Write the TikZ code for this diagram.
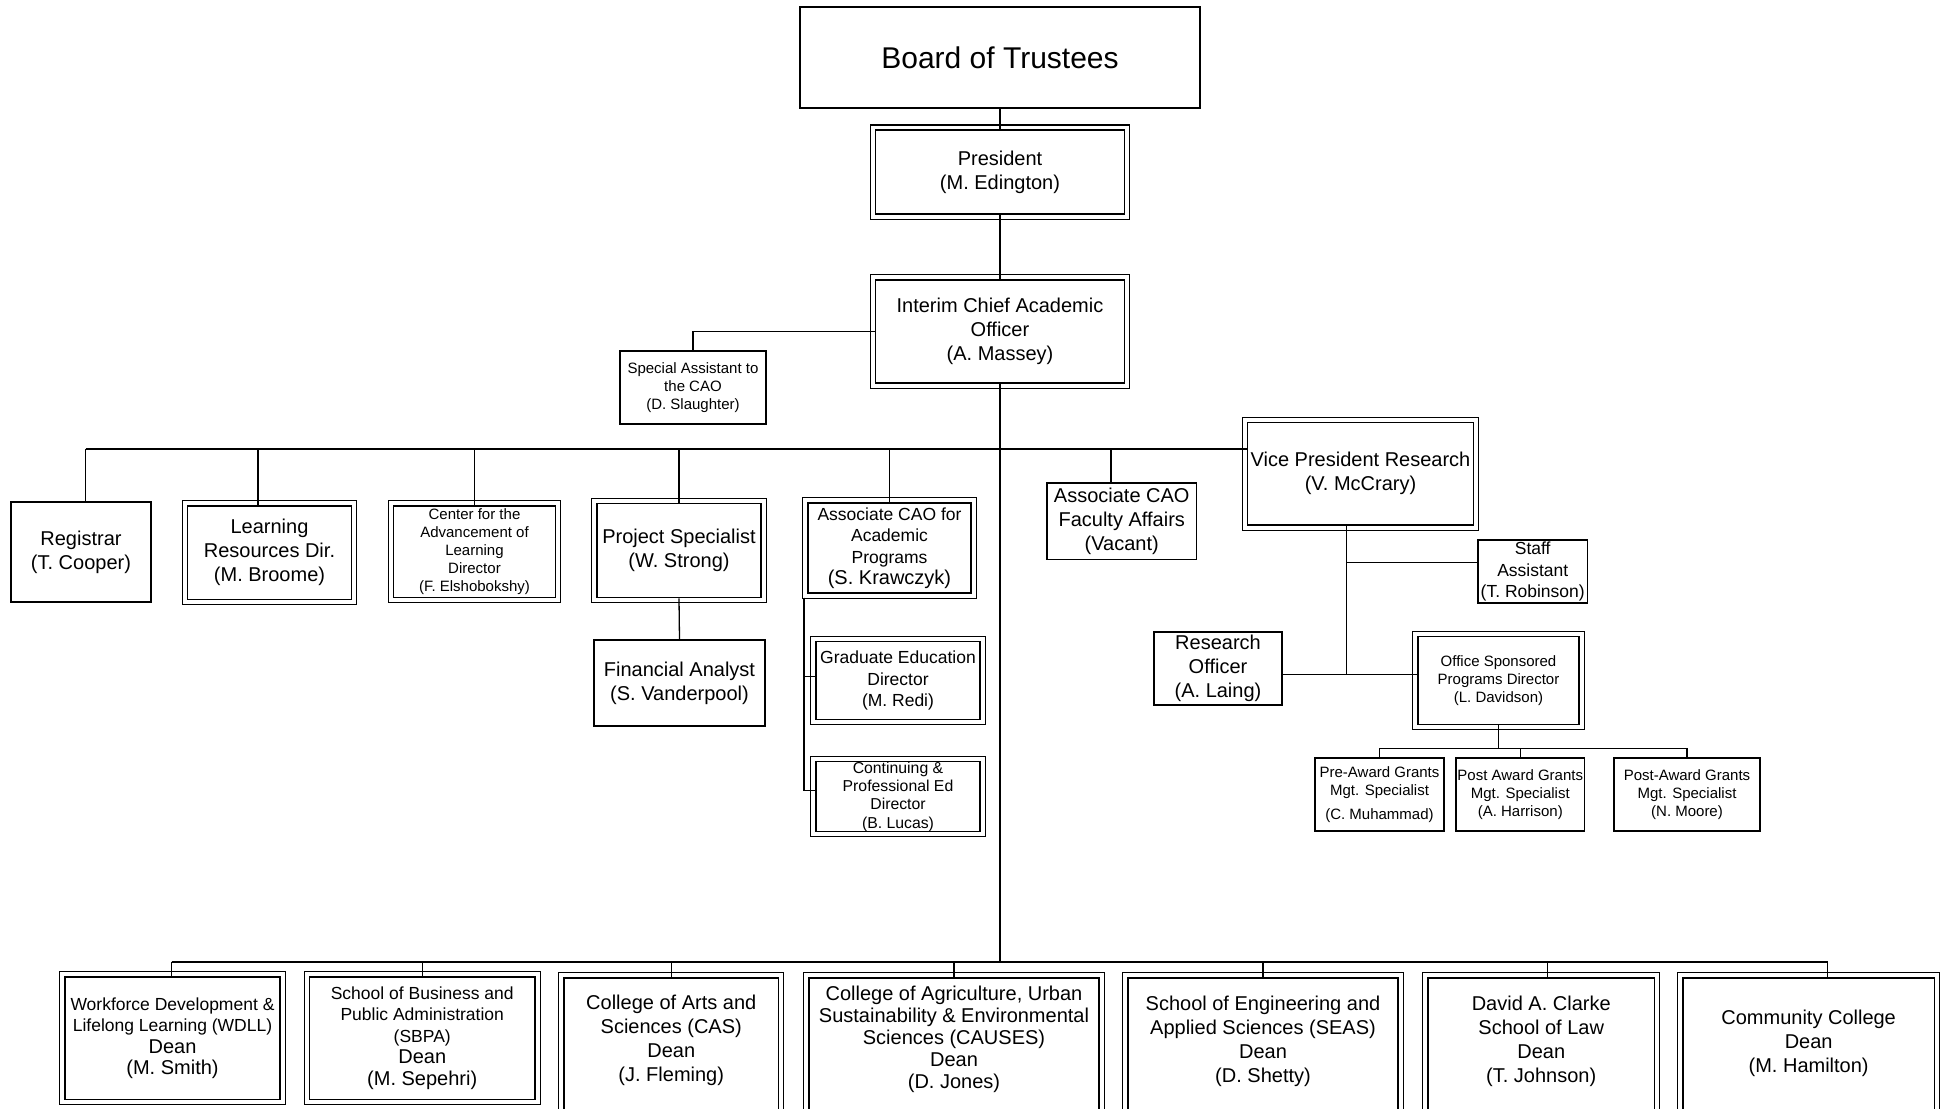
\documentclass[tikz,border=0pt]{standalone}
\usepackage{fontspec}
\setmainfont{Liberation Sans}
\newcommand\fsBig{\fontsize{15}{18}\selectfont}
\newcommand\fsMain{\fontsize{10}{12}\selectfont}
\newcommand\fsMid{\fontsize{8.75}{10.75}\selectfont}
\newcommand\fsCont{\fontsize{7.9}{9.2}\selectfont}
\newcommand\fsSmall{\fontsize{7.5}{9}\selectfont}
\tikzset{
  wh/.style 2 args={minimum width=#1*0.5pt, minimum height=#2*0.5pt},
  sbox/.style={draw, line width=0.65pt, inner sep=0pt, align=center, font=\fsMain},
  dbox/.style={draw, line width=0.8pt, inner sep=0pt, align=center, font=\fsMain},
  txt/.style={inner sep=0pt, align=center, font=\fsMain},
  frame/.style={line width=0.55pt},
  conn/.style={line width=0.65pt},
  trunk/.style={line width=1.1pt},
}
\begin{document}
\begin{tikzpicture}[x=0.5pt, y=-0.5pt]
\fill[white] (0,0) rectangle (1940,1109);
\useasboundingbox (0,0) rectangle (1940,1109);

% --- top of the chart
\node[sbox, wh={400}{101}, font=\fsBig] (board) at (1000,57.5) {Board of Trustees};
\node[dbox, wh={249}{83.5}] (pres) at (1000,172) {President\\(M. Edington)};
\node[dbox, wh={249}{103}] (cao) at (1000,331.5) {Interim Chief Academic\\Officer\\(A. Massey)};
\node[sbox, wh={146}{73}, font=\fsSmall] (spa) at (693,387.5) {Special Assistant to\\the CAO\\(D. Slaughter)};

% --- units reporting to the CAO
\node[sbox, wh={140}{100}] (reg) at (81,552) {Registrar\\(T. Cooper)};
\node[dbox, wh={164}{93.5}] (lrd) at (269.5,552.75) {Learning\\Resources Dir.\\(M. Broome)};
\node[dbox, wh={162}{91.5}, font=\fsSmall] (cal) at (474.5,551.75) {Center for the\\Advancement of\\Learning\\Director\\(F. Elshobokshy)};
\node[dbox, wh={164.5}{94}] (ps) at (679,550.5) {Project Specialist\\(W. Strong)};
\node[sbox, wh={171}{86}] (fa) at (679.5,683) {Financial Analyst\\(S. Vanderpool)};
\node[dbox, wh={163}{90}, font=\fsMid] (acap) at (889.5,548) {Associate CAO for\\Academic\\Programs\\{\fsMain (S. Krawczyk)}};
\node[dbox, wh={164}{78}, font=\fsMid] (ged) at (898,680.5) {Graduate Education\\Director\\(M. Redi)};
\node[dbox, wh={164}{69}, font=\fsCont] (cped) at (898,796.5) {Continuing \&\\Professional Ed\\Director\\(B. Lucas)};
\node[sbox, wh={149.5}{76.5}] (acf) at (1121.75,521.25) {Associate CAO\\Faculty Affairs\\(Vacant)};

% --- research branch
\node[dbox, wh={226}{102.5}] (vpr) at (1360.5,473.75) {Vice President Research\\(V. McCrary)};
\node[sbox, wh={109.5}{63}, font=\fsMid] (staff) at (1532.75,571.5) {Staff\\Assistant\\(T. Robinson)};
\node[sbox, wh={128}{73}] (ro) at (1218,668.5) {Research\\Officer\\(A. Laing)};
\node[dbox, wh={161}{88}, font=\fsSmall] (osp) at (1498.5,680.5) {Office Sponsored\\Programs Director\\(L. Davidson)};
\node[sbox, wh={129}{73}, font=\fsSmall] (pre) at (1379.5,794.5) {Pre-Award Grants\\Mgt. Specialist\\[3pt](C. Muhammad)};
\node[sbox, wh={128.5}{73}, font=\fsSmall] (pma) at (1520.25,794.5) {Post Award Grants\\Mgt. Specialist\\(A. Harrison)};
\node[sbox, wh={146}{73}, font=\fsSmall] (pan) at (1687,794.5) {Post-Award Grants\\Mgt. Specialist\\(N. Moore)};

% --- schools and colleges
\node[dbox, wh={215}{122.3}, font=\fsMid] (wdll) at (172.5,1038.15) {Workforce Development \&\\Lifelong Learning (WDLL)\\{\fsMain Dean}\\{\fsMain (M. Smith)}};
\node[dbox, wh={225.5}{122.3}, font=\fsMid] (sbpa) at (422.25,1038.15) {School of Business and\\Public Administration\\(SBPA)\\{\fsMain Dean}\\{\fsMain (M. Sepehri)}};
\node[dbox, wh={214.5}{150}, anchor=north] (cas) at (671.25,977) {};
\node[txt] (casT) at (671.25,1040.5) {College of Arts and\\Sciences (CAS)\\Dean\\(J. Fleming)};
\node[dbox, wh={290}{150}, anchor=north] (causes) at (954,977) {};
\node[txt, font=\fontsize{10}{11}\selectfont] (causesT) at (954,1039.7) {College of Agriculture, Urban\\Sustainability \& Environmental\\Sciences (CAUSES)\\Dean\\(D. Jones)};
\node[dbox, wh={270}{150}, anchor=north] (seas) at (1263,977) {};
\node[txt] (seasT) at (1263,1041.7) {School of Engineering and\\Applied Sciences (SEAS)\\Dean\\(D. Shetty)};
\node[dbox, wh={226.5}{150}, anchor=north] (law) at (1541.25,977) {};
\node[txt] (lawT) at (1541.25,1041.7) {David A. Clarke\\School of Law\\Dean\\(T. Johnson)};
\node[dbox, wh={251.3}{150}, anchor=north] (cc) at (1808.65,977) {};
\node[txt] (ccT) at (1808.65,1043.3) {Community College\\Dean\\(M. Hamilton)};

% thin outer frames of the double-ruled boxes
\foreach \n in {pres,cao,lrd,cal,ps,acap,ged,cped,vpr,osp,wdll,sbpa,cas,causes,seas,law,cc}
  \draw[frame] ([shift={(-4.5,-4.5)}]\n.north west) rectangle ([shift={(4.5,4.5)}]\n.south east);

% --- connectors
\draw[conn] (board.south) -- (pres.north);
\draw[conn] (pres.south) -- (cao.north);
\coordinate (bbmid) at (1000,961.7);
\draw[trunk] (cao.south) -- (bbmid);
\draw[conn] (cao.west) -| (spa.north);

% bus under the CAO
\coordinate (tb1) at (85.5,449);
\coordinate (tb2) at (258,449);
\coordinate (tb3) at (474.5,449);
\coordinate (tb4) at (679,449);
\coordinate (tb5) at (889.5,449);
\coordinate (tb6) at (1111,449);
\draw[conn] (tb1) -- (tb1 -| vpr.west);
\draw[conn] (tb1) -- (tb1 |- reg.north);
\draw[conn] (tb2) -- (tb2 |- lrd.north);
\draw[conn] (tb3) -- (cal.north);
\draw[conn] (tb4) -- (ps.north);
\draw[conn] (tb5) -- (acap.north);
\draw[conn] (tb6) -- (tb6 |- acf.north);
\draw[conn] (ps.south) -- (fa.north);

% academic programs bracket
\coordinate (apl) at (804,597.5);
\draw[conn] (apl) |- ([yshift=1.9pt]ged.west);
\draw[conn] (apl) |- ([yshift=2.9pt]cped.west);

% research branch
\coordinate (vstaff) at (1346.5,562.3);
\coordinate (vstem) at (1346.5,674.3);
\draw[conn] (vpr.south -| vstem) -- (vstem);
\draw[conn] (vstaff) -- (vstaff -| staff.west);
\draw[conn] (vstem -| ro.east) -- (vstem -| osp.west);
\coordinate (ob) at (1498.8,748.3);
\draw[conn] (osp.south) -- (osp.south |- ob);
\draw[conn] (pre.north) -- (pre.north |- ob) -- (pan.north |- ob) -- (pan.north);
\draw[conn] (pma.north) -- (pma.north |- ob);

% bus to the schools and colleges
\coordinate (bb1) at (171.6,961.7);
\coordinate (bb2) at (1827.6,961.7);
\coordinate (bblaw) at (1547.3,961.7);
\draw[line width=0.85pt] (bb1) -- (bb2);
\draw[conn] (bb1) -- (bb1 |- wdll.north);
\draw[conn] (sbpa.north |- bb1) -- (sbpa.north);
\draw[conn] (cas.north |- bb1) -- (cas.north);
\draw[conn] (causes.north |- bb1) -- (causes.north);
\draw[conn] (seas.north |- bb1) -- (seas.north);
\draw[conn] (bblaw) -- (bblaw |- law.north);
\draw[conn] (bb2) -- (bb2 |- cc.north);
\end{tikzpicture}
\end{document}
